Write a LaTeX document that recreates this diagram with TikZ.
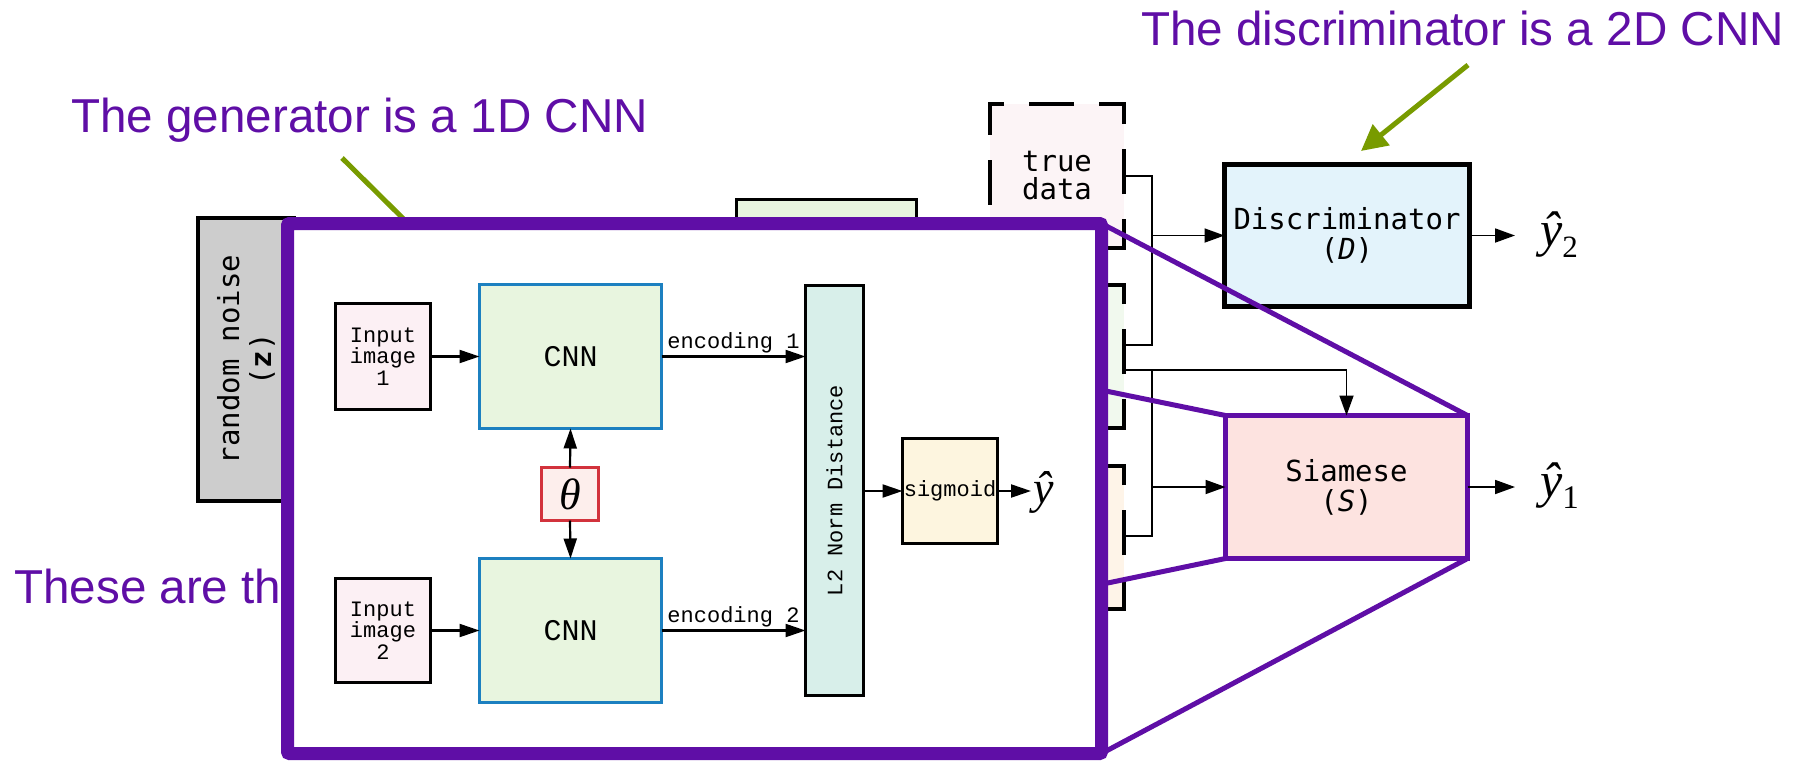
\documentclass[tikz,border=0pt]{standalone}
\usepackage{fontspec}
\usetikzlibrary{arrows.meta,calc}
\newfontfamily\sansf{Liberation Sans}
\newfontfamily\imono{Liberation Mono}
\newfontfamily\omono{DejaVu Sans Mono}
\newfontfamily\tms{Liberation Serif}
\definecolor{vio}{RGB}{95,14,166}
\definecolor{olive}{RGB}{120,155,0}
\definecolor{genfill}{RGB}{232,245,223}
\definecolor{noisefill}{RGB}{205,205,205}
\definecolor{tdfill}{RGB}{252,244,246}
\definecolor{fakeAfill}{RGB}{241,249,238}
\definecolor{fakeBfill}{RGB}{254,244,232}
\definecolor{discfill}{RGB}{227,243,251}
\definecolor{siamfill}{RGB}{253,227,224}
\definecolor{inpfill}{RGB}{252,240,244}
\definecolor{cnnfill}{RGB}{232,245,223}
\definecolor{cnnblue}{RGB}{28,128,192}
\definecolor{thfill}{RGB}{253,238,236}
\definecolor{thred}{RGB}{210,50,60}
\definecolor{ltfill}{RGB}{216,239,234}
\definecolor{sigfill}{RGB}{253,245,223}
\begin{document}
\begin{tikzpicture}[x=1pt,y=-1pt,
  box/.style={draw, inner sep=0pt, outer sep=0pt},
  obox/.style={box, line width=5pt, align=center, font=\omono\fontsize{29}{30}\selectfont},
  dbox/.style={box, line width=4.5pt, dash pattern=on 45pt off 25pt, dash phase=22pt, align=center, font=\omono\fontsize{29}{28}\selectfont},
  ibox/.style={box, line width=3pt, align=center, font=\imono\fontsize{22}{21.5}\selectfont},
  cnnbox/.style={box, draw=cnnblue, fill=cnnfill, line width=3pt, font=\imono\fontsize{30}{30}\selectfont, minimum width=182pt, minimum height=144pt},
  iarr/.style={line width=2.2pt, -{Triangle[length=20pt,width=13pt]}},
  oarr/.style={line width=1.8pt, -{Triangle[length=20pt,width=14pt]}},
  oline/.style={line width=1.8pt},
  zl/.style={draw=vio, line width=5pt},
  ptext/.style={inner sep=0pt, text=vio, font=\sansf\fontsize{47.6}{50}\selectfont},
  gline/.style={draw=olive, line width=5pt},
  lbl/.style={font=\imono\fontsize{22}{22}\selectfont, inner sep=0pt},
  yout/.style={anchor=base west, inner xsep=25pt, inner ysep=0pt, font=\tms\fontsize{50}{50}\selectfont}
]
\useasboundingbox (0,0) rectangle (1804,761);

% green pointer to the generator (mostly hidden)
\coordinate (g1s) at (342,158);
\coordinate (g1e) at (440,255);
\draw[gline] (g1s) -- (g1e);

% generator and noise
\node[box, line width=3pt, fill=genfill, minimum width=180pt, minimum height=201pt] (gen) at (826.5,300) {};
\node[box, line width=4pt, fill=noisefill, rotate=90, minimum width=283pt, minimum height=96pt,
      align=center, font=\omono\fontsize{29}{32}\selectfont] (noise) at (246,359.5) {random noise\\({\bfseries z})};

% data boxes
\node[dbox, fill=tdfill, minimum width=134pt, minimum height=144pt] (tdata) at (1057,176) {true\\data};
\node[dbox, fill=fakeAfill, minimum width=134pt, minimum height=143pt] (fakeA) at (1057,356.5) {};
\node[dbox, fill=fakeBfill, minimum width=134pt, minimum height=143pt] (fakeB) at (1057,537.5) {};

% discriminator and siamese
\node[obox, fill=discfill, minimum width=245pt, minimum height=142pt] (disc) at (1347,235.5) {Discriminator\\(\textit{D})};
\node[obox, draw=vio, fill=siamfill, minimum width=242pt, minimum height=143pt] (siam) at (1346.5,487) {Siamese\\(\textit{S})};

% connectors
\coordinate (b1) at (1152,235.5);
\coordinate (b2) at (1152,487);
\draw[oline] (b1) |- (tdata.east);
\draw[oline] (b1) |- ([yshift=11.5pt]fakeA.east);
\draw[oarr] (b1) -- (disc.west);
\draw[oarr] ([yshift=-13.5pt]fakeA.east) -| (siam.north);
\draw[oline] (b2) |- ([yshift=-13.5pt]fakeA.east);
\draw[oline] (b2) |- ([yshift=1.5pt]fakeB.east);
\draw[oarr] (b2) -- (siam.west);

% outputs
\node[yout] (y2) at (1515,246)
  {\itshape ŷ\raisebox{-11pt}{\upshape\fontsize{31}{31}\selectfont 2}};
\node[yout] (y1) at (1515,497)
  {\itshape ŷ\raisebox{-11pt}{\upshape\fontsize{33}{33}\selectfont 1}};
\draw[oarr] (disc.east) -- (disc.east -| y2.west);
\draw[oarr] (siam.east) -- (siam.east -| y1.west);

% purple texts
\node[ptext, anchor=base west] (gtxt) at (71,132) {The generator is a 1D CNN};
\node[ptext, anchor=base west] (dtxt) at (1141,45) {The discriminator is a 2D CNN};
\node[ptext, anchor=base west] (ttxt) at (14,603) {These are th};

% zoom lines
\node[box, draw=none, minimum width=814pt, minimum height=530pt] (big) at (694.5,488.5) {};
\draw[zl] (siam.north west) -- (big.north west);
\draw[zl] (siam.north east) -- (big.north east);
\draw[zl] (siam.south west) -- (big.south west);
\draw[zl] (siam.south east) -- (big.south east);

% magnified box
\node[box, draw=vio, line width=13pt, fill=white, rounded corners=2pt, minimum width=814pt, minimum height=530pt] (bigbox) at (694.5,488.5) {};

% inner Siamese network
\node[ibox, fill=inpfill, minimum width=95pt, minimum height=106pt] (in1) at (383,356.5) {Input\\image\\1};
\node[ibox, fill=inpfill, minimum width=95pt, minimum height=104pt] (in2) at (383,630.5) {Input\\image\\2};
\node[cnnbox] (cnn1) at (570.5,356.5) {CNN};
\node[cnnbox] (cnn2) at (570.5,630.5) {CNN};
\node[box, draw=thred, fill=thfill, line width=3pt, minimum width=57pt, minimum height=53pt, font=\tms\itshape\fontsize{44}{44}\selectfont] (theta) at (570,494) {θ};
\node[ibox, fill=ltfill, rotate=90, minimum width=410pt, minimum height=58pt] (l2) at (834.5,490.5) {L2 Norm Distance};
\node[ibox, fill=sigfill, minimum width=95pt, minimum height=105pt] (sig) at (950,491) {sigmoid};
\node[anchor=base west, inner xsep=2pt, inner ysep=0pt, font=\tms\itshape\fontsize{46}{46}\selectfont] (yh) at (1031,503) {ŷ};

\draw[iarr] (in1.east) -- (cnn1.west);
\draw[iarr] (in2.east) -- (cnn2.west);
\draw[iarr] (theta.north) -- (cnn1.south);
\draw[iarr] (theta.south) -- (cnn2.north);
\draw[iarr] (cnn1.east) -- (cnn1.east -| l2.north) node[lbl, midway, anchor=base, yshift=8.5pt] {encoding 1};
\draw[iarr] (cnn2.east) -- (cnn2.east -| l2.north) node[lbl, midway, anchor=base, yshift=8.5pt] {encoding 2};
\draw[iarr] (l2.south |- sig.west) -- (sig.west);
\draw[iarr] (sig.east) -- (sig.east -| yh.west);

% green arrow to the discriminator
\coordinate (g2s) at (1468,65);
\coordinate (g2e) at (1361,151);
\draw[gline, -{Triangle[length=26pt,width=26pt]}] (g2s) -- (g2e);
\end{tikzpicture}
\end{document}
